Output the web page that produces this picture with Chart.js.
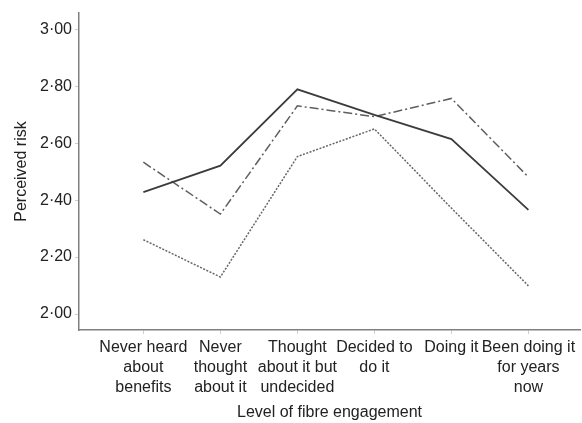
<!DOCTYPE html>
<html>
<head>
<meta charset="utf-8">
<script src="https://cdn.jsdelivr.net/npm/chart.js@4"></script>
<style>
    body { margin: 0; background: #fff; }
    #wrap { width: 582px; height: 423px; }
</style>
</head>
<body>
<div id="wrap"><canvas id="RiskChart"></canvas></div>
<script>
// categories, multi-line as printed under the axis
const categories = [
    ["Never heard", "about", "benefits"],
    ["Never", "thought", "about it"],
    ["Thought", "about it but", "undecided"],
    ["Decided to", "do it"],
    ["Doing it"],
    ["Been doing it", "for years", "now"],
];

const solidSeries = [2.428, 2.521, 2.789, 2.699, 2.614, 2.366];
const dashDotSeries = [2.533, 2.351, 2.731, 2.693, 2.757, 2.481];
const dottedSeries = [2.261, 2.130, 2.553, 2.650, 2.372, 2.099];

const yTicks = [2.0, 2.2, 2.4, 2.6, 2.8, 3.0];

function toPoints(values) {
    return values.map((v, i) => ({ x: i, y: v }));
}

function RiskChart() {
    const ctx = document.getElementById("RiskChart");
    const font = { family: "'Liberation Sans', Arial, sans-serif", size: 16 };

    new Chart(ctx, {
        type: "line",
        data: {
            datasets: [
                {
                    label: "solid",
                    data: toPoints(solidSeries),
                    borderColor: "#3c3c3c",
                    borderWidth: 1.8,
                    pointRadius: 0,
                    tension: 0,
                },
                {
                    label: "dash-dot",
                    data: toPoints(dashDotSeries),
                    borderColor: "#5e5e5e",
                    borderWidth: 1.5,
                    borderDash: [9, 3, 2, 3],
                    pointRadius: 0,
                    tension: 0,
                },
                {
                    label: "dotted",
                    data: toPoints(dottedSeries),
                    borderColor: "#666",
                    borderWidth: 1.5,
                    borderDash: [2, 1.5],
                    pointRadius: 0,
                    tension: 0,
                },
            ],
        },
        options: {
            responsive: true,
            maintainAspectRatio: false,
            animation: false,
            layout: {
                padding: { left: 0, top: 13, right: 2, bottom: 0 },
            },
            plugins: {
                legend: { display: false },
                tooltip: { enabled: false },
            },
            scales: {
                x: {
                    type: "linear",
                    min: -0.836,
                    max: 5.67,
                    afterBuildTicks: (scale) => {
                        scale.ticks = categories.map((c, i) => ({ value: i }));
                    },
                    afterFit: (scale) => {
                        scale.height = 93;
                    },
                    ticks: {
                        autoSkip: false,
                        maxRotation: 0,
                        minRotation: 0,
                        padding: 4,
                        color: "#222",
                        font: { ...font, lineHeight: 1.25 },
                        callback: (value) => categories[value],
                    },
                    grid: {
                        drawOnChartArea: false,
                        drawTicks: true,
                        tickLength: 4,
                        color: "#cfcfcf",
                    },
                    border: { display: true, color: "#808080", width: 1.5 },
                    title: {
                        display: true,
                        text: "Level of fibre engagement",
                        color: "#222",
                        font: font,
                        padding: { top: 0, bottom: 0.5 },
                    },
                },
                y: {
                    min: 1.944,
                    max: 3.057,
                    afterBuildTicks: (scale) => {
                        scale.ticks = yTicks.map((v) => ({ value: v }));
                    },
                    afterFit: (scale) => {
                        scale.width = 79;
                    },
                    ticks: {
                        padding: 3,
                        color: "#222",
                        font: font,
                        callback: (value) => value.toFixed(2).replace(".", "\u00b7"),
                    },
                    grid: {
                        drawOnChartArea: false,
                        drawTicks: true,
                        tickLength: 4,
                        color: "#cfcfcf",
                    },
                    border: { display: true, color: "#808080", width: 1.5 },
                    title: {
                        display: true,
                        text: "Perceived risk",
                        color: "#222",
                        font: font,
                        padding: { top: 11.5, bottom: 0 },
                    },
                },
            },
        },
    });
}

RiskChart();
</script>
</body>
</html>
